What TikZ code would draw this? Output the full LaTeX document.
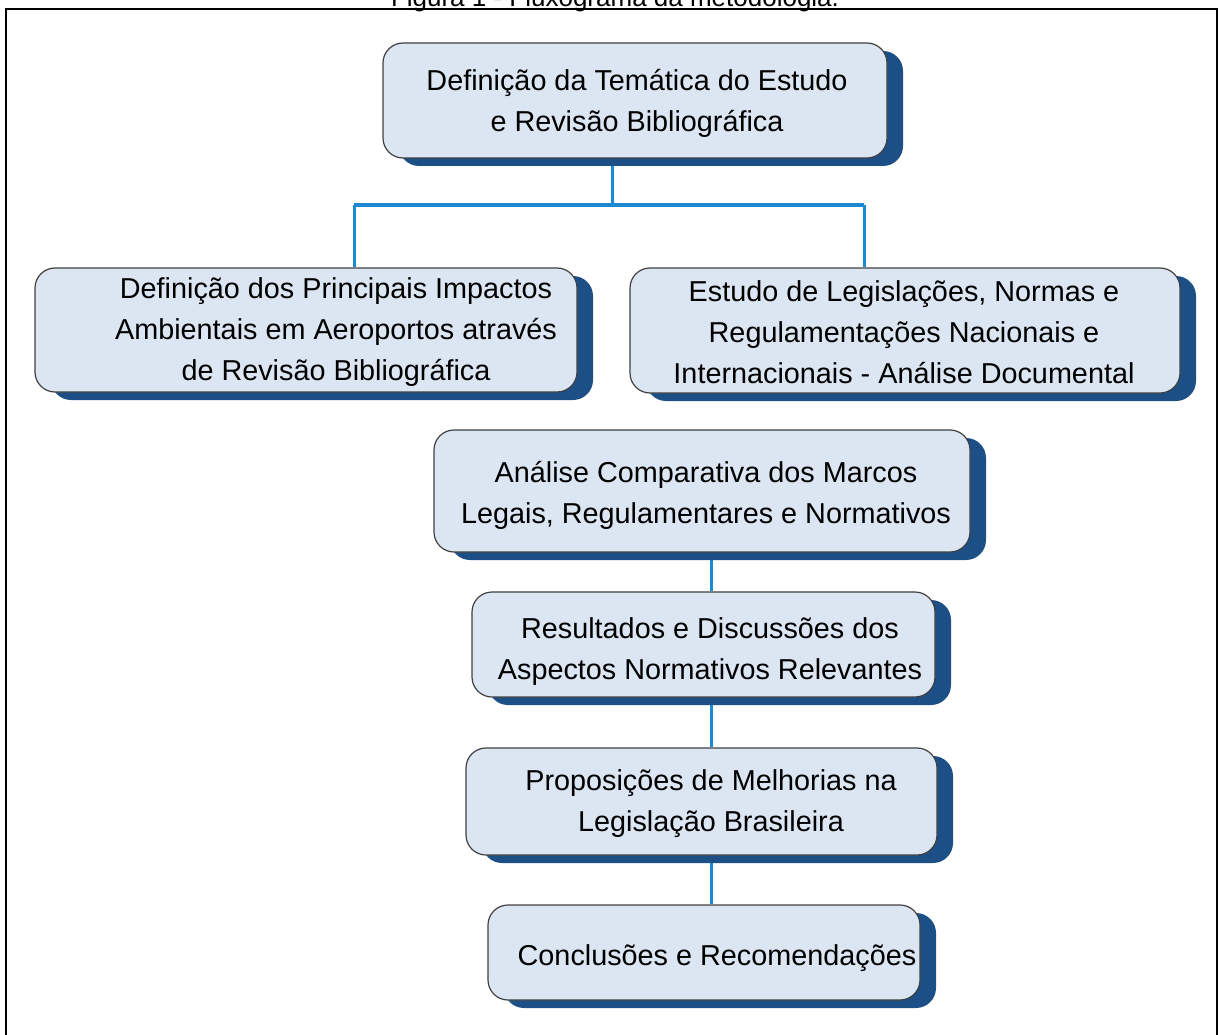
\documentclass[tikz,border=0pt]{standalone}
\usepackage{fontspec}
\setmainfont{Liberation Sans}
\usetikzlibrary{shadows,backgrounds}
\definecolor{boxfill}{HTML}{DCE6F2}
\definecolor{boxline}{HTML}{404040}
\definecolor{shadowblue}{HTML}{1B4F86}
\definecolor{connblue}{HTML}{1B8AD3}
\begin{document}
\begin{tikzpicture}[x=1pt,y=-1pt,
  box/.style={draw=boxline,line width=1.2pt,fill=boxfill,rounded corners=20pt,
    copy shadow={shadow xshift=16pt,shadow yshift=-8pt,fill=shadowblue,draw=none}},
  txt/.style={font=\fontsize{28.8}{41}\selectfont,align=center,inner sep=0pt,text=black},
  conn/.style={draw=connblue,line width=3pt}]
\useasboundingbox (0,0) rectangle (1220,1035);
\node[anchor=base,font=\fontsize{26}{30}\selectfont] (cap) at (615,7) {Figura 1 - Fluxograma da metodologia.};
\draw[line width=2pt,black] (6,9) rectangle (1217,1045);
% boxes
\node[box,minimum width=504pt,minimum height=115pt] (b1) at (635,100.5) {};
\node[box,minimum width=542pt,minimum height=124pt] (b2) at (306,330) {};
\node[box,minimum width=550pt,minimum height=125pt] (b3) at (905,330.5) {};
\node[box,minimum width=536pt,minimum height=122pt] (b4) at (702,491) {};
\node[box,minimum width=463pt,minimum height=105pt] (b5) at (703.5,644.5) {};
\node[box,minimum width=471pt,minimum height=107pt] (b6) at (701.5,801.5) {};
\node[box,minimum width=432pt,minimum height=95pt] (b7) at (704,952.5) {};
% texts
\node[txt] (t1) at (637,103) {Definição da Temática do Estudo\\e Revisão Bibliográfica};
\node[txt] (t2) at (336,332) {Definição dos Principais Impactos\\Ambientais em Aeroportos através\\de Revisão Bibliográfica};
\node[txt] (t3) at (904,332) {Estudo de Legislações, Normas e\\Regulamentações Nacionais e\\Internacionais - Análise Documental};
\node[txt] (t4) at (706,495) {Análise Comparativa dos Marcos\\Legais, Regulamentares e Normativos};
\node[txt] (t5) at (710,652) {Resultados e Discussões dos\\Aspectos Normativos Relevantes};
\node[txt] (t6) at (711,804) {Proposições de Melhorias na\\Legislação Brasileira};
\node[txt] (t7) at (717,958) {Conclusões e Recomendações};
% connectors
\coordinate (j1) at (612,205);
\coordinate (jl) at (354,205);
\coordinate (jr) at (864,205);
\coordinate (col) at (711,0);
\begin{pgfonlayer}{background}
\draw[conn] (j1|-b1.south) -- (j1);
\draw[conn] (jl) -- (jr);
\draw[conn] (jl) -- (jl|-b2.north);
\draw[conn] (jr) -- (jr|-b3.north);
\draw[conn] (col|-b4.south) -- (col|-b5.north);
\draw[conn] (col|-b5.south) -- (col|-b6.north);
\draw[conn] (col|-b6.south) -- (col|-b7.north);
\end{pgfonlayer}
\end{tikzpicture}
\end{document}
